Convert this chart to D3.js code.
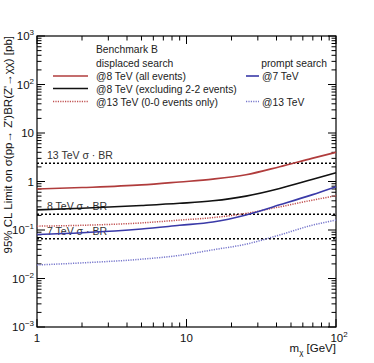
<!DOCTYPE html>
<html>
<head>
<meta charset="utf-8">
<script src="https://cdn.jsdelivr.net/npm/d3@7"></script>
<style>
body { margin: 0; background: #fff; }
svg { font-family: "Liberation Sans", Arial, sans-serif; }
.tick-label { font-size: 11.5px; fill: #111; }
.legend { font-size: 10.3px; fill: #222; }
.xsbr { font-size: 10.5px; fill: #333; }
</style>
</head>
<body>
<svg id="chart" width="374" height="363"></svg>
<script>
var WIDTH = 374;
var HEIGHT = 363;
var LEFT = 37, RIGHT = 336, TOP = 36, BOTTOM = 327;

// masses in GeV
var mass = [1, 2, 5, 9, 15, 25, 42, 69, 100];

// limits in pb
var red8all     = [0.70, 0.75, 0.85, 0.98, 1.12, 1.38, 2.02, 3.0, 4.0];
var black8excl  = [0.26, 0.28, 0.32, 0.355, 0.40, 0.50, 0.72, 1.1, 1.52];
var red13dot    = [0.12, 0.125, 0.14, 0.16, 0.18, 0.22, 0.30, 0.41, 0.51];
var blue7       = [0.081, 0.088, 0.105, 0.125, 0.146, 0.204, 0.33, 0.53, 0.78];
var blue13dot   = [0.019, 0.021, 0.025, 0.030, 0.039, 0.051, 0.079, 0.125, 0.16];

// sigma x BR reference lines
var xsecLabels = ["13 TeV \u03C3 \u00B7 BR", "8 TeV \u03C3 \u00B7 BR", "7 TeV \u03C3 \u00B7 BR"];
var xsecValues = [2.37, 0.21, 0.066];

var yTickExp = [3, 2, 1, 0, -1, -2, -3];
var xTickExp = [0, 1, 2];

var svg = d3.select("#chart");

var x = d3.scaleLog().domain([1, 100]).range([LEFT, RIGHT]);
var y = d3.scaleLog().domain([1e-3, 1e3]).range([BOTTOM, TOP]);

var line = d3.line()
	.x(function(d){return x(d[0]);})
	.y(function(d){return y(d[1]);})
	.curve(d3.curveMonotoneX);

function zip(vals)
{
	return mass.map(function(m, i){return [m, vals[i]];});
}

// frame
svg.append("rect")
	.attr("x", LEFT).attr("y", TOP)
	.attr("width", RIGHT - LEFT).attr("height", BOTTOM - TOP)
	.attr("fill", "none").attr("stroke", "#000").attr("stroke-width", 1.2);

// ticks, ROOT style (inside the frame, on all four sides)
var xMinor = [];
for (var d = 0; d < 2; d++)
	for (var k = 1; k < 10; k++) xMinor.push(k * Math.pow(10, d));
xMinor.push(100);
xMinor.forEach(function(v){
	var major = Math.abs(Math.log10(v) - Math.round(Math.log10(v))) < 1e-9;
	var len = major ? 8 : 4.5;
	svg.append("line").attr("x1", x(v)).attr("x2", x(v))
		.attr("y1", BOTTOM).attr("y2", BOTTOM - len).attr("stroke", "#000");
	svg.append("line").attr("x1", x(v)).attr("x2", x(v))
		.attr("y1", TOP).attr("y2", TOP + len).attr("stroke", "#000");
});

var yMinor = [];
for (var d = -3; d < 3; d++)
	for (var k = 1; k < 10; k++) yMinor.push(k * Math.pow(10, d));
yMinor.push(1000);
yMinor.forEach(function(v){
	var major = Math.abs(Math.log10(v) - Math.round(Math.log10(v))) < 1e-9;
	var len = major ? 8 : 4.5;
	svg.append("line").attr("y1", y(v)).attr("y2", y(v))
		.attr("x1", LEFT).attr("x2", LEFT + len).attr("stroke", "#000");
	svg.append("line").attr("y1", y(v)).attr("y2", y(v))
		.attr("x1", RIGHT).attr("x2", RIGHT - len).attr("stroke", "#000");
});

// y tick labels
yTickExp.forEach(function(e){
	var t = svg.append("text").attr("class", "tick-label")
		.attr("x", LEFT - 3).attr("y", y(Math.pow(10, e)) + 4)
		.attr("text-anchor", "end");
	if (e === 0) t.text("1");
	else if (e === 1) t.text("10");
	else {
		t.append("tspan").text("10");
		t.append("tspan").attr("dy", -5).attr("font-size", "8px").text(e < 0 ? "\u2212" + (-e) : e);
	}
});

// x tick labels
xTickExp.forEach(function(e){
	var t = svg.append("text").attr("class", "tick-label")
		.attr("x", x(Math.pow(10, e))).attr("y", 342)
		.attr("text-anchor", "middle");
	if (e === 0) t.text("1");
	else if (e === 1) t.text("10");
	else {
		t.attr("x", x(100) + 3);
		t.append("tspan").text("10");
		t.append("tspan").attr("dy", -5).attr("font-size", "8px").text(e);
	}
});

// axis titles
var xt = svg.append("text").attr("class", "tick-label")
	.attr("x", RIGHT).attr("y", 352).attr("text-anchor", "end").attr("font-size", "11px");
xt.append("tspan").text("m");
xt.append("tspan").attr("dy", 3).attr("font-size", "8px").text("\u03C7");
xt.append("tspan").attr("dy", -3).text(" [GeV]");

svg.append("text").attr("class", "tick-label")
	.attr("transform", "translate(12," + TOP + ") rotate(-90)")
	.attr("text-anchor", "end")
	.attr("font-size", "11px")
	.text("95% CL Limit on \u03C3(pp\u2192 Z')BR(Z'\u2192\u03C7\u03C7) [pb]");

// sigma x BR lines
xsecValues.forEach(function(v, i){
	svg.append("line")
		.attr("x1", LEFT).attr("x2", RIGHT)
		.attr("y1", y(v)).attr("y2", y(v))
		.attr("stroke", "#000").attr("stroke-width", 1.5)
		.attr("stroke-dasharray", "2,2");
	svg.append("text").attr("class", "xsbr")
		.attr("x", 47).attr("y", y(v) - 4)
		.text(xsecLabels[i]);
});

// limit curves
var curves = [
	{vals: blue13dot, color: "#7777cc", dash: "1.2,1.2", w: 1.5},
	{vals: red13dot, color: "#c05050", dash: "1.2,1.2", w: 1.5},
	{vals: blue7, color: "#3a3aa8", dash: null, w: 1.6},
	{vals: black8excl, color: "#111", dash: null, w: 1.6},
	{vals: red8all, color: "#b03c3c", dash: null, w: 1.6}
];
curves.forEach(function(c){
	svg.append("path")
		.datum(zip(c.vals))
		.attr("d", line)
		.attr("fill", "none")
		.attr("stroke", c.color)
		.attr("stroke-width", c.w)
		.attr("stroke-dasharray", c.dash);
});

// legend
var legLeft = [
	{label: "Benchmark B", y: 53},
	{label: "displaced search", y: 66.5},
	{label: "@8 TeV (all events)", y: 80, color: "#b03c3c"},
	{label: "@8 TeV (excluding 2-2 events)", y: 92.5, color: "#111"},
	{label: "@13 TeV (0-0 events only)", y: 105.5, color: "#c05050", dash: "1.2,1.2"}
];
legLeft.forEach(function(l){
	svg.append("text").attr("class", "legend").attr("x", 96).attr("y", l.y).text(l.label);
	if (l.color)
		svg.append("line").attr("x1", 53).attr("x2", 88)
			.attr("y1", l.y - 4).attr("y2", l.y - 4)
			.attr("stroke", l.color).attr("stroke-width", 1.6)
			.attr("stroke-dasharray", l.dash || null);
});

var legRight = [
	{label: "prompt search", y: 66.5, anchor: "end", x: 327},
	{label: "@7 TeV", y: 80, color: "#3a3aa8", x: 262},
	{label: "@13 TeV", y: 105.5, color: "#7777cc", dash: "1.2,1.2", x: 262}
];
legRight.forEach(function(l){
	svg.append("text").attr("class", "legend").attr("x", l.x).attr("y", l.y)
		.attr("text-anchor", l.anchor || "start").text(l.label);
	if (l.color)
		svg.append("line").attr("x1", 246).attr("x2", 259)
			.attr("y1", l.y - 4).attr("y2", l.y - 4)
			.attr("stroke", l.color).attr("stroke-width", 1.6)
			.attr("stroke-dasharray", l.dash || null);
});
</script>
</body>
</html>
